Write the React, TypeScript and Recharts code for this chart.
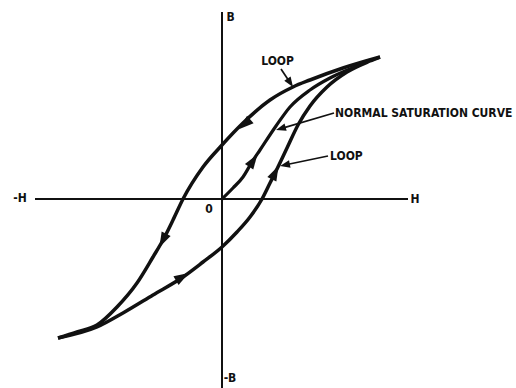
import { ComposedChart, Line, Scatter, XAxis, YAxis, ReferenceLine, ReferenceDot } from 'recharts'

// one unit = 20px on both axes, so slopes in data space match slopes on screen
const hDomain: [number, number] = [-11.1, 14.7]
const bDomain: [number, number] = [-9.45, 9.95]

interface Pt {
  h: number
  b: number
}

// branch coming down from +saturation (upper half of loop)
const descendingBranch: Pt[] = [
  { h: -8.2, b: -6.95 },
  { h: -7.25, b: -6.65 },
  { h: -6.25, b: -6.3 },
  { h: -5.25, b: -5.4 },
  { h: -4.25, b: -4.2 },
  { h: -3.45, b: -2.9 },
  { h: -2.95, b: -2.05 },
  { h: -2.45, b: -1.05 },
  { h: -1.95, b: 0 },
  { h: -0.95, b: 1.6 },
  { h: 0, b: 2.7 },
  { h: 1.05, b: 3.8 },
  { h: 2.4, b: 4.95 },
  { h: 3.55, b: 5.6 },
  { h: 4.4, b: 5.95 },
  { h: 6.05, b: 6.55 },
  { h: 7.9, b: 7.1 },
]

// branch going up from -saturation (lower half of loop)
const ascendingBranch: Pt[] = [
  { h: -8.2, b: -6.95 },
  { h: -6.25, b: -6.4 },
  { h: -4.95, b: -5.7 },
  { h: -3.45, b: -4.8 },
  { h: -1.95, b: -3.9 },
  { h: -0.95, b: -3.15 },
  { h: 0, b: -2.4 },
  { h: 0.75, b: -1.65 },
  { h: 1.4, b: -0.9 },
  { h: 2.0, b: 0 },
  { h: 2.4, b: 0.8 },
  { h: 2.75, b: 1.5 },
  { h: 3.25, b: 2.55 },
  { h: 3.8, b: 3.7 },
  { h: 4.4, b: 4.65 },
  { h: 5.25, b: 5.6 },
  { h: 6.25, b: 6.35 },
  { h: 7.4, b: 6.9 },
  { h: 7.9, b: 7.1 },
]

const normalCurve: Pt[] = [
  { h: 0, b: 0 },
  { h: 0.55, b: 0.55 },
  { h: 1.05, b: 1.1 },
  { h: 1.5, b: 1.85 },
  { h: 1.9, b: 2.45 },
  { h: 2.7, b: 3.65 },
  { h: 3.4, b: 4.6 },
  { h: 4.4, b: 5.45 },
  { h: 5.4, b: 6.05 },
  { h: 6.4, b: 6.5 },
  { h: 6.9, b: 6.7 },
]

// direction arrows on the curves (dir: +1 = travelling towards +H)
const descendingArrows = [
  { h: 1.15, b: 3.75, dir: -1 },
  { h: -2.95, b: -2.05, dir: -1 },
]
const ascendingArrows = [
  { h: -2.0, b: -3.9, dir: 1 },
  { h: 2.65, b: 1.3, dir: 1 },
]
const normalArrows = [{ h: 1.55, b: 1.9, dir: 1 }]

// axis extents
const hAxisEnds = [-9.35, 9.3]
const bAxisEnds = [-9.45, 9.35]

// callout leaders: from text to curve
const callouts = [
  { from: { h: 2.95, b: 6.5 }, to: { h: 3.55, b: 5.6 } },
  { from: { h: 5.6, b: 4.3 }, to: { h: 2.7, b: 3.45 } },
  { from: { h: 5.3, b: 2.15 }, to: { h: 2.9, b: 1.65 } },
]

const axisLabels = [
  { text: '-H', h: -10.1, b: 0.05 },
  { text: 'H', h: 9.65, b: 0 },
  { text: 'B', h: 0.43, b: 9.08 },
  { text: '-B', h: 0.4, b: -8.95 },
  { text: '0', h: -0.65, b: -0.5 },
  { text: 'LOOP', h: 2.78, b: 6.88 },
]
const calloutLabels = [
  { text: 'NORMAL SATURATION CURVE', h: 5.65, b: 4.3 },
  { text: 'LOOP', h: 5.4, b: 2.15 },
]

const FONT = "'DejaVu Sans Condensed', 'Liberation Sans Narrow', 'DejaVu Sans', sans-serif"

function withAngle(branch: Pt[], arrows: { h: number; b: number; dir: number }[]) {
  return arrows.map((a) => {
    let i = branch.findIndex((p) => p.h > a.h)
    if (i <= 0) i = 1
    const p0 = branch[i - 1]
    const p1 = branch[i]
    const slope = (p1.b - p0.b) / (p1.h - p0.h)
    const angle = (Math.atan2(-a.dir * slope, a.dir) * 180) / Math.PI
    return { ...a, angle }
  })
}

const curveArrows = [
  ...withAngle(descendingBranch, descendingArrows),
  ...withAngle(ascendingBranch, ascendingArrows),
  ...withAngle(normalCurve, normalArrows),
]

const ArrowHead = (props: any) => {
  const { cx, cy, payload } = props
  return (
    <polygon
      points="8,0 -7,-5 -7,5"
      fill="#111"
      transform={`translate(${cx},${cy}) rotate(${payload.angle})`}
    />
  )
}

const Leader = (props: any) => {
  const { x1, y1, x2, y2 } = props
  const a = Math.atan2(y2 - y1, x2 - x1)
  const deg = (a * 180) / Math.PI
  return (
    <g>
      <line x1={x1} y1={y1} x2={x2 - 6 * Math.cos(a)} y2={y2 - 6 * Math.sin(a)} stroke="#111" strokeWidth={1.7} />
      <polygon points="0,0 -10,-3.8 -10,3.8" fill="#111" transform={`translate(${x2},${y2}) rotate(${deg})`} />
    </g>
  )
}

const textLabel = (text: string, anchor: 'middle' | 'start') => (props: any) => {
  const vb = props.viewBox
  return (
    <text
      x={vb.x + (vb.width || 0) / 2}
      y={vb.y + (vb.height || 0) / 2}
      textAnchor={anchor}
      dominantBaseline="central"
      fontFamily={FONT}
      fontWeight={700}
      fontSize={12}
      fill="#111"
    >
      {text}
    </text>
  )
}

export default function App() {
  return (
    <div style={{ position: 'absolute', left: 0, top: 0, width: 516, height: 388, background: '#fff' }}>
      <ComposedChart width={516} height={388} margin={{ top: 0, right: 0, bottom: 0, left: 0 }}>
        <XAxis type="number" dataKey="h" domain={hDomain} allowDataOverflow hide />
        <YAxis type="number" dataKey="b" domain={bDomain} allowDataOverflow hide />
        <ReferenceLine
          segment={[
            { x: hAxisEnds[0], y: 0 },
            { x: hAxisEnds[1], y: 0 },
          ]}
          stroke="#111"
          strokeWidth={2}
        />
        <ReferenceLine
          segment={[
            { x: 0, y: bAxisEnds[0] },
            { x: 0, y: bAxisEnds[1] },
          ]}
          stroke="#111"
          strokeWidth={2}
        />
        <Line data={descendingBranch} dataKey="b" type="monotone" stroke="#111" strokeWidth={3.5} dot={false} activeDot={false} isAnimationActive={false} />
        <Line data={ascendingBranch} dataKey="b" type="monotone" stroke="#111" strokeWidth={3.5} dot={false} activeDot={false} isAnimationActive={false} />
        <Line data={normalCurve} dataKey="b" type="monotone" stroke="#111" strokeWidth={3.2} dot={false} activeDot={false} isAnimationActive={false} />
        <Scatter data={curveArrows} dataKey="b" shape={ArrowHead} activeShape={ArrowHead} isAnimationActive={false} />
        {callouts.map((c, i) => (
          <ReferenceLine
            key={'c' + i}
            segment={[
              { x: c.from.h, y: c.from.b },
              { x: c.to.h, y: c.to.b },
            ]}
            shape={Leader}
          />
        ))}
        {axisLabels.map((l, i) => (
          <ReferenceDot key={'a' + i} x={l.h} y={l.b} r={0} fill="none" stroke="none" label={textLabel(l.text, 'middle')} />
        ))}
        {calloutLabels.map((l, i) => (
          <ReferenceDot key={'n' + i} x={l.h} y={l.b} r={0} fill="none" stroke="none" label={textLabel(l.text, 'start')} />
        ))}
      </ComposedChart>
    </div>
  )
}
